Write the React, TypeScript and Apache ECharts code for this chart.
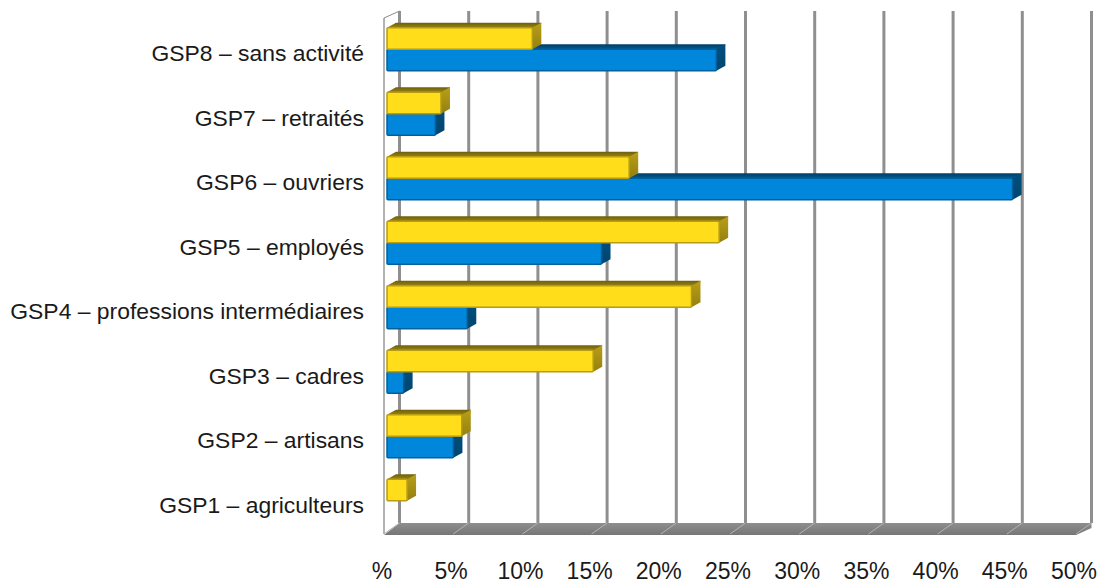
import React, { useEffect, useRef } from "react";
import * as echarts from "echarts";

const categories = [
  "GSP1 – agriculteurs",
  "GSP2 – artisans",
  "GSP3 – cadres",
  "GSP4 – professions intermédiaires",
  "GSP5 – employés",
  "GSP6 – ouvriers",
  "GSP7 – retraités",
  "GSP8 – sans activité",
];
const yellowValues = [1.45, 5.4, 14.9, 22, 24, 17.5, 3.9, 10.5];
const blueValues = [0, 4.8, 1.2, 5.8, 15.5, 45.2, 3.5, 23.8];
const gridTicks = [0, 5, 10, 15, 20, 25, 30, 35, 40, 45, 50];

const WALL_DX = 15.5;
const BAR_DX = 9;
const BAR_DY = 5;
const BAR_SHIFT = 3;
const BAR_UP = 1;

const vGrad = (a: string, b: string) =>
  new echarts.graphic.LinearGradient(0, 0, 0, 1, [
    { offset: 0, color: a },
    { offset: 1, color: b },
  ]);

function barRenderer(slot: number, c: { front: string; edge: string; top: [string, string]; side: [string, string] }) {
  return (_p: any, api: any) => {
    const v = api.value(0);
    if (v <= 0) return { type: "group", children: [] };
    const end = api.coord([v, api.value(1)]);
    const start = api.coord([0, api.value(1)]);
    const h = api.size([0, 1])[1] / 3;
    const x0 = start[0] + BAR_SHIFT;
    const x1 = end[0] + BAR_SHIFT;
    const y0 = start[1] + slot * h - BAR_UP;
    const y1 = y0 + h;
    return {
      type: "group",
      children: [
        {
          type: "polygon",
          shape: { points: [[x0, y0], [x0 + BAR_DX, y0 - BAR_DY], [x1 + BAR_DX, y0 - BAR_DY], [x1 + BAR_DX - 1, y0], [x1, y0 + 1]] },
          style: { fill: vGrad(c.top[0], c.top[1]) },
        },
        {
          type: "polygon",
          shape: { points: [[x1, y0], [x1 + BAR_DX, y0 - BAR_DY], [x1 + BAR_DX, y1 - BAR_DY], [x1, y1]] },
          style: { fill: vGrad(c.side[0], c.side[1]) },
        },
        {
          type: "rect",
          shape: { x: x0, y: y0, width: x1 - x0, height: h, r: 1 },
          style: { fill: c.front, stroke: c.edge, lineWidth: 1.5 },
        },
      ],
    };
  };
}

function wallRenderer(params: any, api: any) {
  const cs = params.coordSys;
  const v = api.value(0);
  const x = api.coord([v, 0])[0];
  const bottom = cs.y + cs.height;
  const top = cs.y;
  const backBottom = bottom - 11;
  const backTop = top - 7;
  const children: any[] = [];
  if (params.dataIndex === 0) {
    const l = cs.x;
    const r = cs.x + cs.width;
    children.push(
      {
        type: "polygon",
        shape: {
          points: [[l, bottom + 1], [l + WALL_DX, backBottom], [r + WALL_DX, backBottom], [r + WALL_DX, backBottom + 5], [r, bottom + 1]],
        },
        style: { fill: vGrad("#8e8e8e", "#767676") },
      },
      { type: "line", shape: { x1: l, y1: top, x2: l, y2: bottom }, style: { stroke: "#9a9a9a", lineWidth: 1.5 } },
      { type: "line", shape: { x1: l, y1: top, x2: l + WALL_DX, y2: backTop }, style: { stroke: "#8a8a8a", lineWidth: 1 } },
    );
  }
  children.push(
    { type: "line", shape: { x1: x + WALL_DX, y1: backTop, x2: x + WALL_DX, y2: backBottom }, style: { stroke: "#8f8f8f", lineWidth: 3 } },
    { type: "line", shape: { x1: x, y1: bottom, x2: x + WALL_DX, y2: backBottom }, style: { stroke: "#b4b4b4", lineWidth: 1 } },
  );
  return { type: "group", children };
}

export default function App() {
  const ref = useRef<HTMLDivElement>(null);
  useEffect(() => {
    const chart = echarts.init(ref.current!, null, { renderer: "svg" });
    chart.setOption({
      animation: false,
      backgroundColor: "#ffffff",
      textStyle: { fontFamily: "Liberation Sans" },
      grid: { left: 384, top: 18, width: 692, height: 516, containLabel: false },
      xAxis: {
        type: "value",
        min: 0,
        max: 50,
        interval: 5,
        axisLine: { show: false },
        axisTick: { show: false },
        splitLine: { show: false },
        axisLabel: {
          color: "#1a1a1a",
          fontSize: 23,
          margin: 25,
          padding: [0, 4, 0, 0],
          showMinLabel: true,
          showMaxLabel: true,
          formatter: (v: number) => (v === 0 ? "%" : v + "%"),
        },
      },
      yAxis: {
        type: "category",
        data: categories,
        axisLine: { show: false },
        axisTick: { show: false },
        splitLine: { show: false },
        axisLabel: { color: "#1a1a1a", fontSize: 22.9, margin: 20, interval: 0, verticalAlign: "top", lineHeight: 6 },
      },
      series: [
        {
          type: "custom",
          name: "grille",
          silent: true,
          renderItem: wallRenderer,
          data: gridTicks.map((t) => [t, 0]),
          encode: { x: 0, y: 1 },
          clip: false,
        },
        {
          type: "custom",
          name: "bleu",
          renderItem: barRenderer(0, { front: "#0087dc", edge: "#00609e", top: ["#003f66", "#005f99"], side: ["#004f80", "#00466f"] }),
          data: blueValues.map((v, i) => [v, i]),
          encode: { x: 0, y: 1 },
          clip: false,
        },
        {
          type: "custom",
          name: "jaune",
          renderItem: barRenderer(-1, { front: "#ffdd1a", edge: "#b89c12", top: ["#6e5f0c", "#a08a14"], side: ["#b89f18", "#94800f"] }),
          data: yellowValues.map((v, i) => [v, i]),
          encode: { x: 0, y: 1 },
          clip: false,
        },
      ],
    });
    return () => chart.dispose();
  }, []);
  return <div ref={ref} style={{ position: "absolute", left: 0, top: 0, width: 1102, height: 582 }} />;
}
